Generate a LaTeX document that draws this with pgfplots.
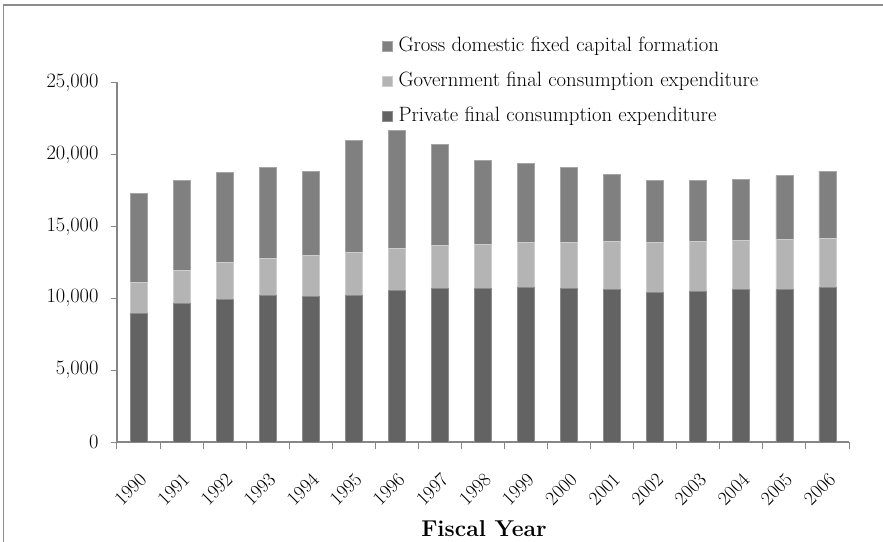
\documentclass[border=0pt]{standalone}
\usepackage{fontspec}
\setmainfont{Latin Modern Roman}
\usepackage{pgfplots}
\pgfplotsset{compat=1.18}

\definecolor{privfill}{RGB}{99,99,99}
\definecolor{privedge}{RGB}{140,140,140}
\definecolor{govfill}{RGB}{180,180,180}
\definecolor{govedge}{RGB}{205,205,205}
\definecolor{gdfill}{RGB}{128,128,128}
\definecolor{gdedge}{RGB}{165,165,165}
\definecolor{axisgray}{RGB}{134,134,134}
\definecolor{framegray}{RGB}{140,140,140}

\newcommand{\ticksize}{\fontsize{20.5}{22}\selectfont}
\newcommand{\yearsize}{\fontsize{19.5}{21}\selectfont}
\newcommand{\legsize}{\fontsize{20.8}{23}\selectfont}

\begin{document}
\begin{tikzpicture}
\useasboundingbox (0,0) rectangle (883bp,542bp);
% outer frame (left and top edges)
\draw[framegray, line width=1.8bp] (3.5bp,0) -- (3.5bp,537bp) -- (883bp,537bp);

% Expenditure components by fiscal year (index 0 = 1990)
\begin{axis}[
  at={(117bp,100bp)}, anchor=south west,
  scale only axis,
  width=732bp, height=359.5bp,
  ybar stacked,
  bar width=17bp,
  xmin=-0.5, xmax=16.5,
  ymin=0, ymax=25000,
  ytick={0,5000,10000,15000,20000,25000},
  scaled y ticks=false,
  xtick={0,...,16},
  xticklabels={1990,1991,1992,1993,1994,1995,1996,1997,1998,1999,2000,2001,2002,2003,2004,2005,2006},
  minor xtick={-0.5,0.5,...,16.5},
  axis x line*=bottom,
  axis y line*=left,
  axis line style={axisgray, line width=1.2bp, -},
  tick align=outside,
  major tick length=6bp,
  minor tick length=7bp,
  major x tick style={draw=none},
  minor x tick style={axisgray, line width=1bp},
  y tick style={axisgray, line width=1bp},
  /pgf/number format/fixed,
  /pgf/number format/1000 sep={,},
  /pgf/number format/assume math mode=true,
  yticklabel style={font=\ticksize, xshift=-9bp},
  xticklabel style={font=\yearsize, yshift=-19bp, xshift=0bp, rotate=45, anchor=north east},
  reverse legend,
  legend style={
    draw=none, fill=none,
    at={(axis description cs:0.358,1.135)}, anchor=north west,
    font=\legsize,
    row sep=14bp,
    nodes={inner sep=2bp, text height=13bp, text depth=4bp},
  },
  legend cell align=left,
  legend image code/.code={\fill[#1] (0bp,-5bp) rectangle (10bp,5bp);},
]
\addplot[fill=privfill, draw=privedge, line width=0.8bp] coordinates {
 (0,8920) (1,9640) (2,9940) (3,10200) (4,10100) (5,10200) (6,10570) (7,10660)
 (8,10660) (9,10730) (10,10660) (11,10590) (12,10430) (13,10500) (14,10590)
 (15,10590) (16,10730)};
\addlegendentry{\,Private final consumption expenditure}
\addplot[fill=govfill, draw=govedge, line width=0.8bp] coordinates {
 (0,2200) (1,2270) (2,2530) (3,2590) (4,2850) (5,2960) (6,2920) (7,2990)
 (8,3060) (9,3150) (10,3220) (11,3360) (12,3450) (13,3450) (14,3450)
 (15,3520) (16,3450)};
\addlegendentry{\,Government final consumption expenditure}
\addplot[fill=gdfill, draw=gdedge, line width=0.8bp] coordinates {
 (0,6140) (1,6300) (2,6300) (3,6280) (4,5890) (5,7800) (6,8180) (7,7060)
 (8,5880) (9,5510) (10,5190) (11,4650) (12,4330) (13,4260) (14,4240)
 (15,4430) (16,4660)};
\addlegendentry{\,Gross domestic fixed capital formation}
\end{axis}

\node[anchor=base, font=\fontsize{23}{25}\selectfont\bfseries] at (484bp,5.5bp) {Fiscal Year};
\end{tikzpicture}
\end{document}
